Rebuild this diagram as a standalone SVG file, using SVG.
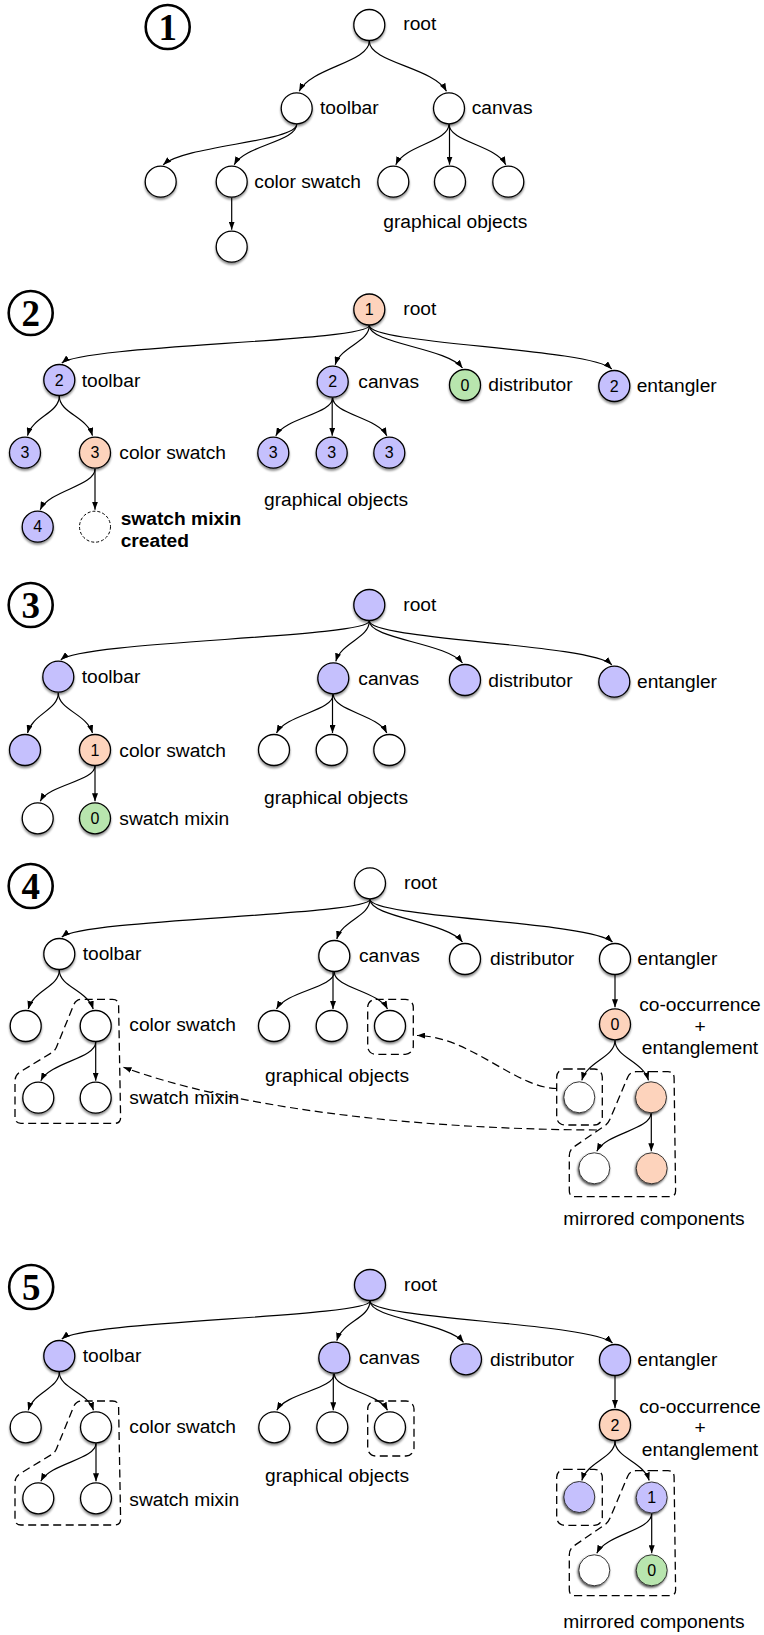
<svg xmlns="http://www.w3.org/2000/svg" width="764" height="1635" viewBox="0 0 764 1635">
<style>
.n{stroke:#000;stroke-width:1.3;filter:url(#sh)}
.m{stroke:#222;stroke-width:0.9;filter:url(#sh2)}
.w{fill:#fff}.p{fill:#C5C0FD}.o{fill:#FDD3BC}.g{fill:#B8E5AE}
.e{fill:none;stroke:#000;stroke-width:1.2;marker-end:url(#ah)}
.da{fill:none;stroke:#000;stroke-width:1.2;stroke-dasharray:8 4.5;marker-end:url(#ah)}
.d{fill:none;stroke:#000;stroke-width:1.3;stroke-dasharray:8 4.5}
.dc{fill:#fff;stroke:#000;stroke-width:1;stroke-dasharray:3 2}
.t{font-family:"Liberation Sans",Arial,Helvetica,sans-serif;font-size:19.2px;fill:#000}
.c{text-anchor:middle}
.b{font-weight:bold}
.num{font-family:"Liberation Sans",Arial,Helvetica,sans-serif;font-size:16px;text-anchor:middle;fill:#000}
.big{font-family:"Liberation Serif","Times New Roman",serif;font-weight:bold;font-size:37px;text-anchor:middle;fill:#000}
.bc{fill:#fff;stroke:#000;stroke-width:2.6}
</style>
<defs>
<filter id="sh" x="-30%" y="-30%" width="160%" height="170%">
<feDropShadow dx="0" dy="2" stdDeviation="1.3" flood-color="#000" flood-opacity="0.45"/>
</filter>
<filter id="sh2" x="-30%" y="-30%" width="160%" height="170%">
<feDropShadow dx="-0.8" dy="1.6" stdDeviation="1.1" flood-color="#000" flood-opacity="0.7"/>
</filter>
<marker id="ah" viewBox="0 0 8 6" refX="8" refY="3" markerWidth="8" markerHeight="6" markerUnits="userSpaceOnUse" orient="auto">
<path d="M0,0 L8,3 L0,6 z" fill="#000"/>
</marker>
</defs>
<rect width="764" height="1635" fill="#fff"/>

<!-- step badges -->
<g id="badge1"><circle class="bc" cx="167.7" cy="27" r="22"/><text class="big" x="167.7" y="40">1</text></g>
<g id="badge2"><circle class="bc" cx="30.7" cy="313" r="22"/><text class="big" x="30.7" y="326">2</text></g>
<g id="badge3"><circle class="bc" cx="30.7" cy="605" r="22"/><text class="big" x="30.7" y="618">3</text></g>
<g id="badge4"><circle class="bc" cx="30.7" cy="886" r="22"/><text class="big" x="30.7" y="899">4</text></g>
<g id="badge5"><circle class="bc" cx="31.2" cy="1287" r="22"/><text class="big" x="31.2" y="1300">5</text></g>

<!-- connectors -->
<g id="connectors">
<!-- step 1 -->
<path class="e" d="M369.3,41 C369.3,62.6 311.1,67.2 299.2,91.3"/>
<path class="e" d="M369.3,41 C369.3,62.6 433.4,67.2 446.5,91.3"/>
<path class="e" d="M296.7,124.3 C296.7,141.7 185.2,145.3 163.2,164.7"/>
<path class="e" d="M296.7,124.3 C296.7,141.7 244.8,145.3 234.2,164.7"/>
<path class="e" d="M449,124.3 C449,141.7 404.8,145.3 395.8,164.7"/>
<path class="e" d="M449.5,124.3 L449.5,164.7"/>
<path class="e" d="M449,124.3 C449,141.7 495.9,145.3 505.8,164.7"/>
<path class="e" d="M231.7,197.7 L231.7,229.7"/>
<!-- step 2 -->
<path class="e" d="M369.3,325.5 C369.3,341.6 83.8,345 61.8,363"/>
<path class="e" d="M369.3,325.5 C369.3,342.4 341,345.9 335.2,364.7"/>
<path class="e" d="M369.3,325.5 C369.3,343.8 446.7,347.6 462.5,368"/>
<path class="e" d="M369.3,325.5 C369.3,344.2 589.8,348.1 611.8,369"/>
<path class="e" d="M59.3,396 C59.3,413.1 32.9,416.6 27.5,435.7"/>
<path class="e" d="M59.3,396 C59.3,413.1 86.9,416.6 92.5,435.7"/>
<path class="e" d="M332.7,397.7 C332.7,414 285.5,417.5 275.8,435.7"/>
<path class="e" d="M332.2,397.7 L332.2,435.7"/>
<path class="e" d="M332.7,397.7 C332.7,414 377.6,417.5 386.8,435.7"/>
<path class="e" d="M95,468.7 C95,486.3 49.5,490 40.2,509.7"/>
<path class="e" d="M95,468.7 L95,509.7"/>
<!-- step 3 -->
<path class="e" d="M369.3,621 C369.3,637.6 82.8,641.1 60.8,659.7"/>
<path class="e" d="M369.3,621 C369.3,638.3 341.5,642 335.8,661.3"/>
<path class="e" d="M369.3,621 C369.3,639.1 446.7,642.8 462.5,663"/>
<path class="e" d="M369.3,621 C369.3,639.8 589.8,643.7 611.8,664.7"/>
<path class="e" d="M58.3,692.7 C58.3,710 32.7,713.7 27.5,733"/>
<path class="e" d="M58.3,692.7 C58.3,710 86.7,713.7 92.5,733"/>
<path class="e" d="M333.3,694.3 C333.3,711 286.2,714.4 276.5,733"/>
<path class="e" d="M332.5,694.3 L332.5,733"/>
<path class="e" d="M333.3,694.3 C333.3,711 377.7,714.4 386.8,733"/>
<path class="e" d="M95,766 C95,781.2 49.5,784.4 40.2,801.3"/>
<path class="e" d="M95,766 L95,801.3"/>
<!-- step 4 -->
<path class="e" d="M370,899.3 C370,915.5 83.8,918.9 61.8,937"/>
<path class="e" d="M370,899.3 C370,916.4 342.4,919.9 336.8,939"/>
<path class="e" d="M370,899.3 C370,917.7 446.8,921.5 462.5,942"/>
<path class="e" d="M370,899.3 C370,917.7 590.5,921.5 612.5,942"/>
<path class="e" d="M59.3,970 C59.3,986.8 33.5,990.3 28.2,1009"/>
<path class="e" d="M59.3,970 C59.3,986.8 87.4,990.3 93.2,1009"/>
<path class="e" d="M334.3,972 C334.3,987.9 286.3,991.2 276.5,1009"/>
<path class="e" d="M333,972 L333,1009"/>
<path class="e" d="M334.3,972 C334.3,987.9 378.5,991.2 387.5,1009"/>
<path class="e" d="M95.7,1042 C95.7,1058.6 50.1,1062.1 40.8,1080.7"/>
<path class="e" d="M95.7,1042 L95.7,1080.7"/>
<path class="e" d="M615,975 L615,1007.3"/>
<path class="e" d="M615,1040.3 C615,1057.5 587.4,1061.1 581.8,1080.3"/>
<path class="e" d="M615,1040.3 C615,1057.5 642.8,1061.1 648.5,1080.3"/>
<path class="e" d="M651,1113.3 C651,1129.6 606,1133.1 596.8,1151.3"/>
<path class="e" d="M651.3,1113.3 L651.3,1151.3"/>
<path class="da" d="M557,1088.5 C515,1088 470,1036 417,1035.5"/>
<path class="da" d="M597,1130 C400,1129 230,1106 123.5,1067.3"/>
<!-- step 5 -->
<path class="e" d="M370,1301 C370,1317.3 83.8,1320.8 61.8,1339"/>
<path class="e" d="M370,1301 C370,1318.1 342.4,1321.6 336.8,1340.7"/>
<path class="e" d="M370,1301 C370,1318.8 447.6,1322.5 463.5,1342.3"/>
<path class="e" d="M370,1301 C370,1319.1 590.5,1322.8 612.5,1343"/>
<path class="e" d="M59.3,1372 C59.3,1388.5 33.5,1391.9 28.2,1410.3"/>
<path class="e" d="M59.3,1372 C59.3,1388.5 87.7,1391.9 93.5,1410.3"/>
<path class="e" d="M334.3,1373.7 C334.3,1389.4 286.6,1392.7 276.8,1410.3"/>
<path class="e" d="M333.3,1373.7 L333.3,1410.3"/>
<path class="e" d="M334.3,1373.7 C334.3,1389.4 378.5,1392.7 387.5,1410.3"/>
<path class="e" d="M96,1443.3 C96,1459.6 50.2,1463.1 40.8,1481.3"/>
<path class="e" d="M96,1443.3 L96,1481.3"/>
<path class="e" d="M615,1376 L615,1408"/>
<path class="e" d="M615,1441 C615,1458 587.4,1461.5 581.8,1480.5"/>
<path class="e" d="M615,1441 C615,1458 643.4,1461.5 649.2,1480.5"/>
<path class="e" d="M651.7,1513.5 C651.7,1530.6 606.1,1534.2 596.8,1553.3"/>
<path class="e" d="M651.7,1513.5 L651.7,1553.3"/>
</g>

<!-- dashed groupings -->
<g id="groups4">
<path class="d" d="M97,999.3 L112.5,999.3 Q118.5,999.3 118.6,1005.3 L120.6,1117.3 Q120.7,1123.3 114.7,1123.3 L21,1123.3 Q15,1123.3 15,1117.3 L15,1081 Q15,1075 20.1,1071.9 L51.6,1052.8 Q55,1050.7 56.5,1047 L73.7,1004.9 Q76,999.3 82,999.3 Z"/>
<rect class="d" x="367.7" y="999.3" width="45.6" height="55" rx="8"/>
<rect class="d" x="556.7" y="1069" width="45.6" height="56" rx="8"/>
<path class="d" d="M650,1071.7 L668,1071.7 Q674,1071.7 674.1,1077.7 L675.6,1190.7 Q675.7,1196.7 669.7,1196.7 L575.3,1196.7 Q569.3,1196.7 569.3,1190.7 L569.3,1156 Q569.3,1150 574.3,1146.6 L605,1125.6 Q608.3,1123.3 609.8,1119.6 L627.7,1077.2 Q630,1071.7 636,1071.7 Z"/>
</g>
<g id="groups5">
<path class="d" transform="translate(0,401.7)" d="M97,999.3 L112.5,999.3 Q118.5,999.3 118.6,1005.3 L120.6,1117.3 Q120.7,1123.3 114.7,1123.3 L21,1123.3 Q15,1123.3 15,1117.3 L15,1081 Q15,1075 20.1,1071.9 L51.6,1052.8 Q55,1050.7 56.5,1047 L73.7,1004.9 Q76,999.3 82,999.3 Z"/>
<rect class="d" x="367.7" y="1401" width="46.3" height="55" rx="8"/>
<rect class="d" x="556.7" y="1469.3" width="45.6" height="56" rx="8"/>
<path class="d" transform="translate(0,399)" d="M650,1071.7 L668,1071.7 Q674,1071.7 674.1,1077.7 L675.6,1190.7 Q675.7,1196.7 669.7,1196.7 L575.3,1196.7 Q569.3,1196.7 569.3,1190.7 L569.3,1156 Q569.3,1150 574.3,1146.6 L605,1125.6 Q608.3,1123.3 609.8,1119.6 L627.7,1077.2 Q630,1071.7 636,1071.7 Z"/>
</g>

<!-- STEP 1 nodes -->
<g id="s1-root"><circle class="n w" cx="369.3" cy="25" r="15.5"/><text class="t" x="403.3" y="30">root</text></g>
<g id="s1-toolbar"><circle class="n w" cx="296.7" cy="108.3" r="15.5"/><text class="t" x="320" y="114">toolbar</text></g>
<g id="s1-canvas"><circle class="n w" cx="449" cy="108.3" r="15.5"/><text class="t" x="471.7" y="114">canvas</text></g>
<g id="s1-tb1"><circle class="n w" cx="160.7" cy="181.7" r="15.5"/></g>
<g id="s1-swatch"><circle class="n w" cx="231.7" cy="181.7" r="15.5"/><text class="t" x="254.3" y="187.5">color swatch</text></g>
<g id="s1-g1"><circle class="n w" cx="393.3" cy="181.7" r="15.5"/></g>
<g id="s1-g2"><circle class="n w" cx="450" cy="181.7" r="15.5"/></g>
<g id="s1-g3"><circle class="n w" cx="508.3" cy="181.7" r="15.5"/></g>
<g id="s1-glabel"><text class="t" x="383.3" y="228">graphical objects</text></g>
<g id="s1-sw1"><circle class="n w" cx="231.7" cy="246.7" r="15.5"/></g>

<!-- STEP 2 nodes -->
<g id="s2-root"><circle class="n o" cx="369.3" cy="309.5" r="15.5"/><text class="num" x="369.3" y="315.2">1</text><text class="t" x="403.3" y="314.5">root</text></g>
<g id="s2-toolbar"><circle class="n p" cx="59.3" cy="380" r="15.5"/><text class="num" x="59.3" y="385.7">2</text><text class="t" x="81.7" y="386.5">toolbar</text></g>
<g id="s2-canvas"><circle class="n p" cx="332.7" cy="381.7" r="15.5"/><text class="num" x="332.7" y="387.4">2</text><text class="t" x="358.3" y="388">canvas</text></g>
<g id="s2-distributor"><circle class="n g" cx="465" cy="385" r="15.5"/><text class="num" x="465" y="390.7">0</text><text class="t" x="488.3" y="391">distributor</text></g>
<g id="s2-entangler"><circle class="n p" cx="614.3" cy="386" r="15.5"/><text class="num" x="614.3" y="391.7">2</text><text class="t" x="636.7" y="392">entangler</text></g>
<g id="s2-tb1"><circle class="n p" cx="25" cy="452.7" r="15.5"/><text class="num" x="25" y="458.4">3</text></g>
<g id="s2-swatch"><circle class="n o" cx="95" cy="452.7" r="15.5"/><text class="num" x="95" y="458.4">3</text><text class="t" x="119.3" y="459">color swatch</text></g>
<g id="s2-g1"><circle class="n p" cx="273.3" cy="452.7" r="15.5"/><text class="num" x="273.3" y="458.4">3</text></g>
<g id="s2-g2"><circle class="n p" cx="331.7" cy="452.7" r="15.5"/><text class="num" x="331.7" y="458.4">3</text></g>
<g id="s2-g3"><circle class="n p" cx="389.3" cy="452.7" r="15.5"/><text class="num" x="389.3" y="458.4">3</text></g>
<g id="s2-glabel"><text class="t" x="264" y="505.5">graphical objects</text></g>
<g id="s2-sw1"><circle class="n p" cx="37.7" cy="526.7" r="15.5"/><text class="num" x="37.7" y="532.4">4</text></g>
<g id="s2-mixin"><circle class="dc" cx="95" cy="526.7" r="15.5"/><text class="t b" x="120.7" y="524.5">swatch mixin</text><text class="t b" x="120.7" y="547">created</text></g>

<!-- STEP 3 nodes -->
<g id="s3-root"><circle class="n p" cx="369.3" cy="605" r="15.5"/><text class="t" x="403.3" y="610.5">root</text></g>
<g id="s3-toolbar"><circle class="n p" cx="58.3" cy="676.7" r="15.5"/><text class="t" x="81.7" y="683">toolbar</text></g>
<g id="s3-canvas"><circle class="n p" cx="333.3" cy="678.3" r="15.5"/><text class="t" x="358.3" y="685">canvas</text></g>
<g id="s3-distributor"><circle class="n p" cx="465" cy="680" r="15.5"/><text class="t" x="488.3" y="686.5">distributor</text></g>
<g id="s3-entangler"><circle class="n p" cx="614.3" cy="681.7" r="15.5"/><text class="t" x="637" y="688">entangler</text></g>
<g id="s3-tb1"><circle class="n p" cx="25" cy="750" r="15.5"/></g>
<g id="s3-swatch"><circle class="n o" cx="95" cy="750" r="15.5"/><text class="num" x="95" y="755.7">1</text><text class="t" x="119.3" y="756.5">color swatch</text></g>
<g id="s3-g1"><circle class="n w" cx="274" cy="750" r="15.5"/></g>
<g id="s3-g2"><circle class="n w" cx="331.7" cy="750" r="15.5"/></g>
<g id="s3-g3"><circle class="n w" cx="389.3" cy="750" r="15.5"/></g>
<g id="s3-glabel"><text class="t" x="264" y="803.5">graphical objects</text></g>
<g id="s3-sw1"><circle class="n w" cx="37.7" cy="818.3" r="15.5"/></g>
<g id="s3-mixin"><circle class="n g" cx="95" cy="818.3" r="15.5"/><text class="num" x="95" y="824">0</text><text class="t" x="119.3" y="824.5">swatch mixin</text></g>

<!-- STEP 4 nodes -->
<g id="s4-root"><circle class="n w" cx="370" cy="883.3" r="15.5"/><text class="t" x="404" y="889">root</text></g>
<g id="s4-toolbar"><circle class="n w" cx="59.3" cy="954" r="15.5"/><text class="t" x="82.7" y="960">toolbar</text></g>
<g id="s4-canvas"><circle class="n w" cx="334.3" cy="956" r="15.5"/><text class="t" x="359" y="962">canvas</text></g>
<g id="s4-distributor"><circle class="n w" cx="465" cy="959" r="15.5"/><text class="t" x="490" y="965">distributor</text></g>
<g id="s4-entangler"><circle class="n w" cx="615" cy="959" r="15.5"/><text class="t" x="637.3" y="965">entangler</text></g>
<g id="s4-tb1"><circle class="n w" cx="25.7" cy="1026" r="15.5"/></g>
<g id="s4-swatch"><circle class="n w" cx="95.7" cy="1026" r="15.5"/><text class="t" x="129.3" y="1031">color swatch</text></g>
<g id="s4-g1"><circle class="n w" cx="274" cy="1026" r="15.5"/></g>
<g id="s4-g2"><circle class="n w" cx="331.7" cy="1026" r="15.5"/></g>
<g id="s4-g3"><circle class="n w" cx="390" cy="1026" r="15.5"/></g>
<g id="s4-glabel"><text class="t" x="265" y="1082">graphical objects</text></g>
<g id="s4-mx1"><circle class="n w" cx="38.3" cy="1097.7" r="15.5"/></g>
<g id="s4-mx2"><circle class="n w" cx="95.7" cy="1097.7" r="15.5"/><text class="t" x="129.3" y="1104">swatch mixin</text></g>
<g id="s4-cooc"><circle class="n o" cx="615" cy="1024.3" r="15.5"/><text class="num" x="615" y="1030">0</text><text class="t c" x="700" y="1011">co-occurrence</text><text class="t c" x="700" y="1032.7">+</text><text class="t c" x="700" y="1054.3">entanglement</text></g>
<g id="s4-mir1"><circle class="m w" cx="579.3" cy="1097.3" r="15.5"/></g>
<g id="s4-mir2"><circle class="m o" cx="651" cy="1097.3" r="15.5"/></g>
<g id="s4-mir3"><circle class="m w" cx="594.3" cy="1168.3" r="15.5"/></g>
<g id="s4-mir4"><circle class="m o" cx="651.7" cy="1168.3" r="15.5"/></g>
<g id="s4-mlabel"><text class="t c" x="654" y="1225">mirrored components</text></g>

<!-- STEP 5 nodes -->
<g id="s5-root"><circle class="n p" cx="370" cy="1285" r="15.5"/><text class="t" x="404" y="1290.5">root</text></g>
<g id="s5-toolbar"><circle class="n p" cx="59.3" cy="1356" r="15.5"/><text class="t" x="82.7" y="1362">toolbar</text></g>
<g id="s5-canvas"><circle class="n p" cx="334.3" cy="1357.7" r="15.5"/><text class="t" x="359" y="1364">canvas</text></g>
<g id="s5-distributor"><circle class="n p" cx="466" cy="1359.3" r="15.5"/><text class="t" x="490" y="1365.5">distributor</text></g>
<g id="s5-entangler"><circle class="n p" cx="615" cy="1360" r="15.5"/><text class="t" x="637.3" y="1366">entangler</text></g>
<g id="s5-tb1"><circle class="n w" cx="25.7" cy="1427.3" r="15.5"/></g>
<g id="s5-swatch"><circle class="n w" cx="96" cy="1427.3" r="15.5"/><text class="t" x="129.3" y="1433">color swatch</text></g>
<g id="s5-g1"><circle class="n w" cx="274.3" cy="1427.3" r="15.5"/></g>
<g id="s5-g2"><circle class="n w" cx="332.3" cy="1427.3" r="15.5"/></g>
<g id="s5-g3"><circle class="n w" cx="390" cy="1427.3" r="15.5"/></g>
<g id="s5-glabel"><text class="t" x="265" y="1482">graphical objects</text></g>
<g id="s5-mx1"><circle class="n w" cx="38.3" cy="1498.3" r="15.5"/></g>
<g id="s5-mx2"><circle class="n w" cx="96" cy="1498.3" r="15.5"/><text class="t" x="129.3" y="1506">swatch mixin</text></g>
<g id="s5-cooc"><circle class="n o" cx="615" cy="1425" r="15.5"/><text class="num" x="615" y="1430.7">2</text><text class="t c" x="700" y="1412.5">co-occurrence</text><text class="t c" x="700" y="1434">+</text><text class="t c" x="700" y="1455.5">entanglement</text></g>
<g id="s5-mir1"><circle class="m p" cx="579.3" cy="1497" r="15.5"/></g>
<g id="s5-mir2"><circle class="m p" cx="651.7" cy="1497.5" r="15.5"/><text class="num" x="651.7" y="1503.2">1</text></g>
<g id="s5-mir3"><circle class="m w" cx="594.3" cy="1570.3" r="15.5"/></g>
<g id="s5-mir4"><circle class="m g" cx="651.7" cy="1570.3" r="15.5"/><text class="num" x="651.7" y="1576">0</text></g>
<g id="s5-mlabel"><text class="t c" x="654" y="1627.5">mirrored components</text></g>
</svg>
